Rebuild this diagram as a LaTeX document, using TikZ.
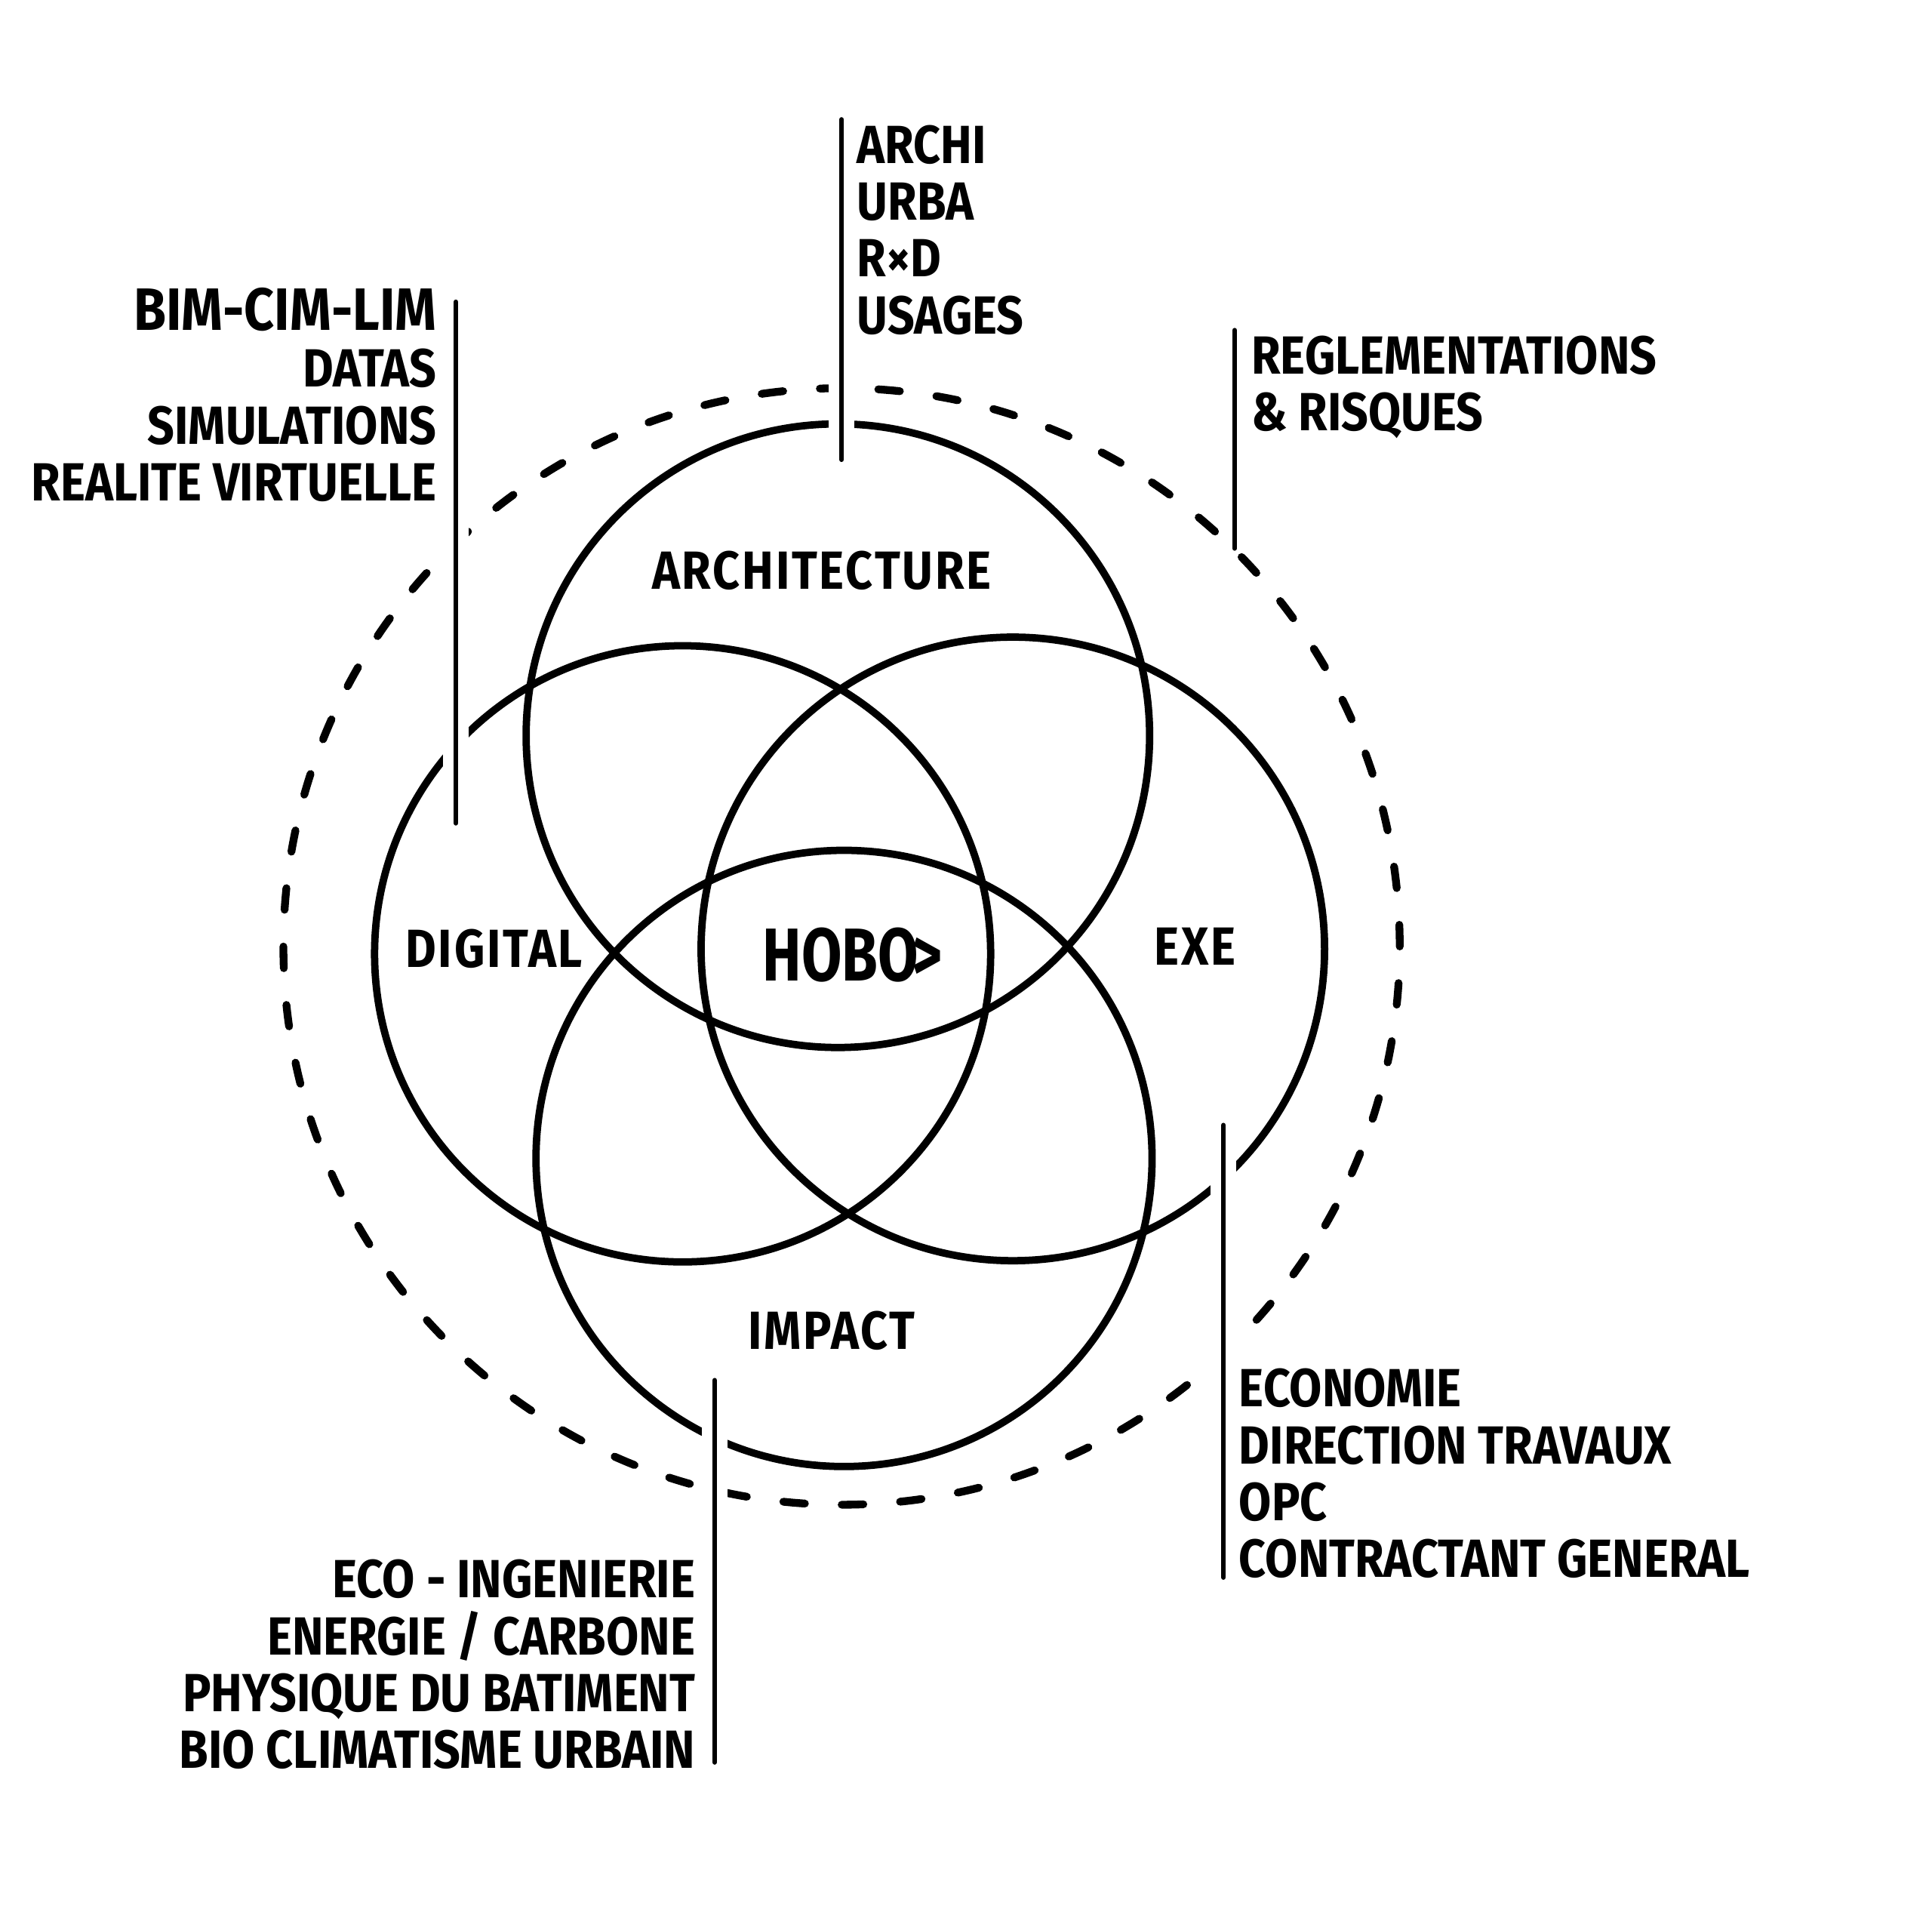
\documentclass[tikz,border=0pt]{standalone}
\usepackage{fontspec}
\newfontfamily\handfont{Fira Sans}[FakeStretch=0.88]
\newfontfamily\zonefont{Fira Sans}[FakeStretch=0.88, LetterSpace=4]
\newfontfamily\hubfont{Fira Sans}[FakeStretch=0.78]
\usetikzlibrary{backgrounds}

\begin{document}
\begin{tikzpicture}[
    x=1cm, y=1cm, line cap=round,
    ring/.style={line width=1.7pt},
    halo/.style={line width=1.8pt, dash pattern=on 5pt off 8.5pt},
    leader/.style={line width=1.1pt,
      preaction={draw=white, line width=6pt, line cap=butt}},
    tag/.style={font=\handfont\bfseries\fontsize{12.4}{13.1}\selectfont, inner sep=0pt},
    zone/.style={font=\zonefont\bfseries\fontsize{12.4}{13.1}\selectfont, inner sep=0pt},
    hub/.style={font=\hubfont\bfseries\fontsize{17.3}{18}\selectfont, inner sep=0pt}]

  \fill[white] (0,0) rectangle (15.68,15.51);
  \useasboundingbox (0,0) rectangle (15.68,15.51);

  % centres of the four fields and of the outer ring
  \coordinate (archc)   at (6.80,9.54);
  \coordinate (digic)   at (5.54,7.77);
  \coordinate (exec)    at (8.22,7.81);
  \coordinate (impactc) at (6.85,6.11);
  \coordinate (haloc)   at (6.83,7.83);

  % outer dashed ring
  \draw[halo] (haloc) circle[radius=4.53];

  % the four fields
  \draw[ring] (archc)   circle[radius=2.53];
  \draw[ring] (digic)   circle[radius=2.50];
  \draw[ring] (exec)    circle[radius=2.53];
  \draw[ring] (impactc) circle[radius=2.50];

  % leader ends
  \coordinate (archtop)    at (6.83,14.54);
  \coordinate (archfoot)   at (6.83,11.78);
  \coordinate (digitop)    at (3.70,13.06);
  \coordinate (digifoot)   at (3.70,8.83);
  \coordinate (regltop)    at (10.02,12.83);
  \coordinate (reglfoot)   at (10.02,11.06);
  \coordinate (exetop)     at (9.93,6.38);
  \coordinate (exefoot)    at (9.93,2.71);
  \coordinate (impacttop)  at (5.80,4.31);
  \coordinate (impactfoot) at (5.80,1.21);

  % leaders
  \draw[leader] (archtop) -- (archfoot);
  \draw[leader] (digitop) -- (digifoot);
  \draw[leader] (regltop) -- (reglfoot);
  \draw[leader] (exetop) -- (exefoot);
  \draw[leader] (impacttop) -- (impactfoot);

  % field names
  \node[zone] (archname)   at (6.67,10.88) {ARCHITECTURE};
  \node[zone] (diginame)   at (4.01,7.81)  {DIGITAL};
  \node[zone] (exename)    at (9.70,7.83)  {EXE};
  \node[zone] (impactname) at (6.75,4.71)  {IMPACT};
  \node[hub]  (hobo)       at (6.92,7.76)  {HOBO\kern-0.08em>};

  % lists
  \node[tag, anchor=north west, align=left] (archlist) at (6.95,14.50)
       {ARCHI\\URBA\\R×D\\USAGES};
  \node[tag, anchor=north east, align=right] (digilist) at (3.55,13.18)
       {{\fontsize{13.8}{13.1}\selectfont BIM-CIM-LIM}\\DATAS\\SIMULATIONS\\REALITE VIRTUELLE};
  \node[tag, anchor=north west, align=left] (regllist) at (10.15,12.79)
       {REGLEMENTATIONS\\\& RISQUES};
  \node[tag, anchor=north west, align=left] (exelist) at (10.05,4.41)
       {ECONOMIE\\DIRECTION TRAVAUX\\OPC\\CONTRACTANT GENERAL};
  \node[tag, anchor=north east, align=right] (impactlist) at (5.65,2.86)
       {ECO - INGENIERIE\\ENERGIE / CARBONE\\PHYSIQUE DU BATIMENT\\BIO CLIMATISME URBAIN};
\end{tikzpicture}
\end{document}
